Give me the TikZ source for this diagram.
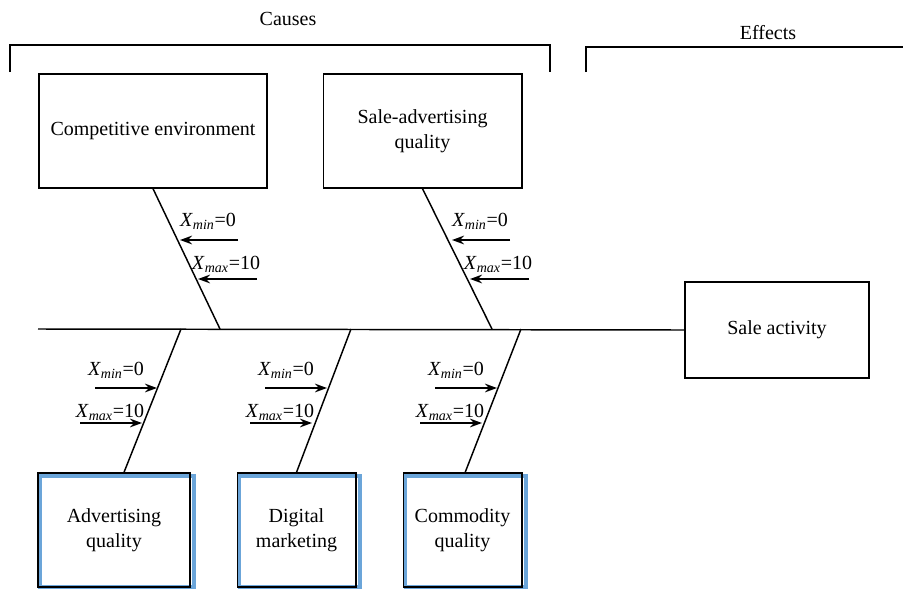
\documentclass[tikz,border=0pt]{standalone}
\usepackage{fontspec}
\setmainfont{Liberation Serif}
\usetikzlibrary{arrows.meta, positioning, calc, backgrounds}
\definecolor{glowblue}{RGB}{91, 155, 213}

\tikzset{
    box/.style={draw, line width=1pt, fill=none, align=center, inner sep=2pt},
    glow/.style={draw=glowblue, line width=2.8pt, opacity=0.9},
    bone/.style={line width=1.1pt},
    pointer/.style={line width=1.4pt, -{Stealth[length=9pt, width=6.5pt]}},
    lbl/.style={inner sep=0pt}
}

\begin{document}
\begin{tikzpicture}[x=0.75pt, y=-0.75pt, font=\fontsize{15}{19}\selectfont]
        \useasboundingbox (0,0) rectangle (903,589);

        % 括号
        \node[lbl] (causes) at (288,19) {Causes};
        \draw[line width=1pt] (10,72) -- (10,45) -- (550,45) -- (550,72);
        \node[lbl] (effects) at (768,33) {Effects};
        \draw[line width=1.6pt] (586,72) -- (586,47) -- (903,47);

        % 原因框
        \node[box, minimum width=171pt, minimum height=85.5pt] (ce) at (153,131) {Competitive environment};
        \node[box, minimum width=149pt, minimum height=85.5pt] (sa) at (422.5,131) {Sale-advertising\\quality};
        \node[box, minimum width=114pt, minimum height=85.5pt] (ad) at (114,530) {Advertising\\quality};
        \node[box, minimum width=89pt, minimum height=85.5pt] (dm) at (296.5,530) {Digital\\marketing};
        \node[box, minimum width=89pt, minimum height=85.5pt] (cq) at (462.5,530) {Commodity\\quality};

        % 结果框
        \node[box, minimum width=138pt, minimum height=72pt] (act) at (777,330) {Sale activity};

        % 阴影
        \begin{scope}[on background layer]
            \foreach \b in {ad, dm, cq} {
                \draw[glow] ([xshift=2.2pt, yshift=-2.6pt]\b.north west) rectangle ([xshift=2.4pt, yshift=0.4pt]\b.south east);
            }
        \end{scope}

        % 主干
        \coordinate (tail) at (38,329);
        \draw[bone] (tail) -- (act.west);

        % 上方分支
        \coordinate (j1) at (220,329);
        \coordinate (j2) at (492,329);
        \draw[bone] (ce.south) -- (j1);
        \draw[bone] (sa.south) -- (j2);

        % 下方分支
        \coordinate (j3) at (181,329);
        \coordinate (j4) at (351,329);
        \coordinate (j5) at (521,329);
        \draw[bone] (j3) -- ([xshift=7.5pt]ad.north);
        \draw[bone] (j4) -- (dm.north);
        \draw[bone] (j5) -- ([xshift=2pt]cq.north);

        % 上方取值
        \foreach \dx/\nm in {0/u1, 272/u2} {
            \node[lbl] (min\nm) at (208+\dx,221) {\textit{X}\textsubscript{\textit{min}}=0};
            \node[lbl] (max\nm) at (226+\dx,264) {\textit{X}\textsubscript{\textit{max}}=10};
            \coordinate (a\nm) at (238+\dx,240);
            \coordinate (b\nm) at (180+\dx,240);
            \coordinate (c\nm) at (257+\dx,279);
            \coordinate (d\nm) at (198+\dx,279);
            \draw[pointer] (a\nm) -- (b\nm);
            \draw[pointer] (c\nm) -- (d\nm);
        }

        % 下方取值
        \foreach \dx/\nm in {0/l1, 170/l2, 340/l3} {
            \node[lbl] (min\nm) at (116+\dx,370) {\textit{X}\textsubscript{\textit{min}}=0};
            \node[lbl] (max\nm) at (110+\dx,412) {\textit{X}\textsubscript{\textit{max}}=10};
            \coordinate (a\nm) at (95+\dx,388);
            \coordinate (b\nm) at (157+\dx,388);
            \coordinate (c\nm) at (80+\dx,423);
            \coordinate (d\nm) at (142+\dx,423);
            \draw[pointer] (a\nm) -- (b\nm);
            \draw[pointer] (c\nm) -- (d\nm);
        }

    \end{tikzpicture}
\end{document}
